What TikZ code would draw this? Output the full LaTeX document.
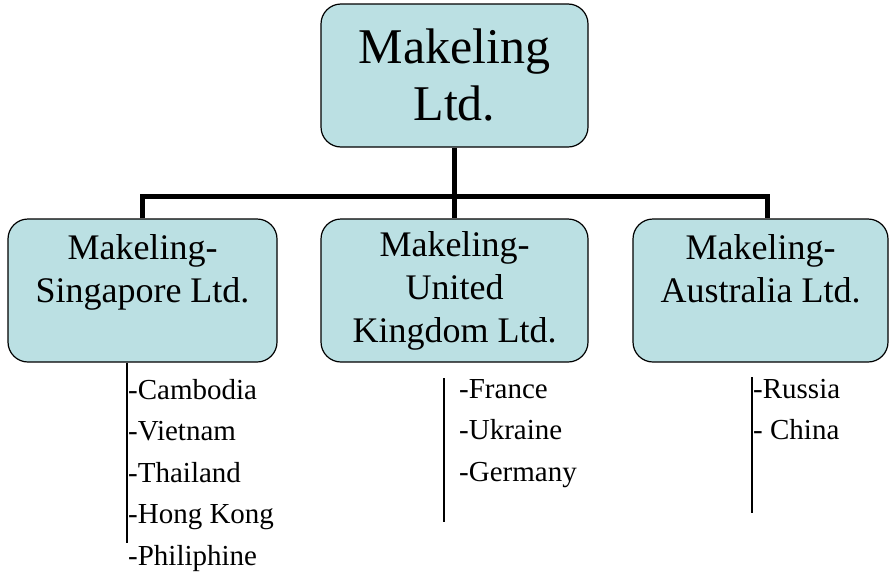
\documentclass[tikz,border=0pt]{standalone}
\usepackage{fontspec}
\setmainfont{Liberation Serif}
\usepackage{xcolor}
\usepackage{tikz}
\definecolor{boxfill}{HTML}{BBE0E3}
\tikzset{
  orgBox/.style={draw=black, fill=boxfill, line width=1.2pt, rounded corners=20pt,
    align=center, inner sep=0pt, minimum height=143pt},
  topText/.style={font=\fontsize{50}{57}\selectfont},
  subText/.style={font=\fontsize{36}{43}\selectfont},
  conn/.style={draw=black, line width=5pt},
  listLine/.style={draw=black, line width=1.2pt},
  listText/.style={font=\fontsize{29}{41.5}\selectfont, align=left, inner sep=0pt, anchor=north west}
}

\begin{document}
\begin{tikzpicture}[x=1pt, y=-1pt]
  \useasboundingbox (0,0) rectangle (890,573);
  \clip (0,0) rectangle (890,573);

  \node[orgBox, topText, minimum width=267pt] (top) at (454.5,75.5) {Makeling\\Ltd.};

  \node[orgBox, subText, minimum width=269pt] (sing) at (142.5,290.5) {Makeling-\\Singapore Ltd.\\\mbox{}};
  \node[orgBox, subText, minimum width=267pt] (ukd) at (454.5,290.5) {Makeling-\\United\\Kingdom Ltd.};
  \node[orgBox, subText, minimum width=255pt] (aus) at (760.5,290.5) {Makeling-\\Australia Ltd.\\\mbox{}};

  \coordinate (busL) at (142.5,196.5);
  \coordinate (busR) at (767,196.5);

  \draw[conn] (top.south) -- (ukd.north);
  \draw[conn] (busL |- sing.north) -- (busL) -- (busR) -- (busR |- aus.north);

  \coordinate (singEnd) at (127,543);
  \coordinate (ukdTop) at (444,378);
  \coordinate (ukdEnd) at (444,522);
  \coordinate (ausTop) at (752,377);
  \coordinate (ausEnd) at (752,513);

  \draw[listLine] (singEnd |- sing.south) -- (singEnd);
  \draw[listLine] (ukdTop) -- (ukdEnd);
  \draw[listLine] (ausTop) -- (ausEnd);

  \node[listText] (singList) at (128,379) {-Cambodia\\-Vietnam\\-Thailand\\-Hong Kong\\-Philiphine};
  \node[listText] (ukdList) at (459,379) {-France\\-Ukraine\\-Germany};
  \node[listText] (ausList) at (753,379) {-Russia\\- China};
\end{tikzpicture}
\end{document}
